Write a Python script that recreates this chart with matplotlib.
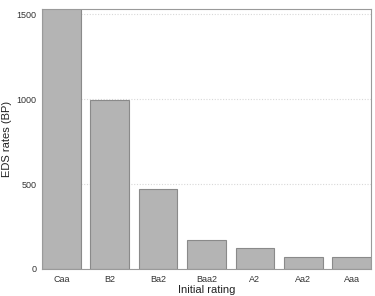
import matplotlib
matplotlib.use("Agg")
import matplotlib.pyplot as plt

categories = ["Caa", "B2", "Ba2", "Baa2", "A2", "Aa2", "Aaa"]
values = [1600, 994, 469, 169, 123, 72, 68]
yticks = [0, 500, 1000, 1500]

plt.rcParams['font.family'] = ['Liberation Sans', 'DejaVu Sans']

fig = plt.figure(figsize=(3.75, 2.96), dpi=100)
ax = fig.add_axes([42/375, 1 - 269/296, (371-42)/375, (269-9)/296])

x = list(range(len(categories)))
ax.bar(x, values, width=0.8, color="#b4b4b4", edgecolor="#8a8a8a", linewidth=0.8, zorder=2)
ax.set_xlim(-0.4, len(categories) - 0.6)
ax.set_ylim(0, 1530)
ax.set_xticks(x)
ax.set_xticklabels(categories)
ax.set_yticks(yticks)
ax.yaxis.grid(True, linestyle=(0, (1, 1.5)), color="#d8d8d8", linewidth=0.8, zorder=0)
ax.tick_params(length=0, labelsize=6.5, colors="#333333", pad=4)
for s in ax.spines.values():
    s.set_color("#9a9a9a")
    s.set_linewidth(0.8)
ax.set_ylabel("EDS rates (BP)", fontsize=8, color="#222222")
ax.set_xlabel("Initial rating", fontsize=8, color="#222222")
ax.yaxis.set_label_coords(-0.09, 0.5)
ax.xaxis.set_label_coords(0.5, -0.06)

fig.savefig("out.png", dpi=100)
